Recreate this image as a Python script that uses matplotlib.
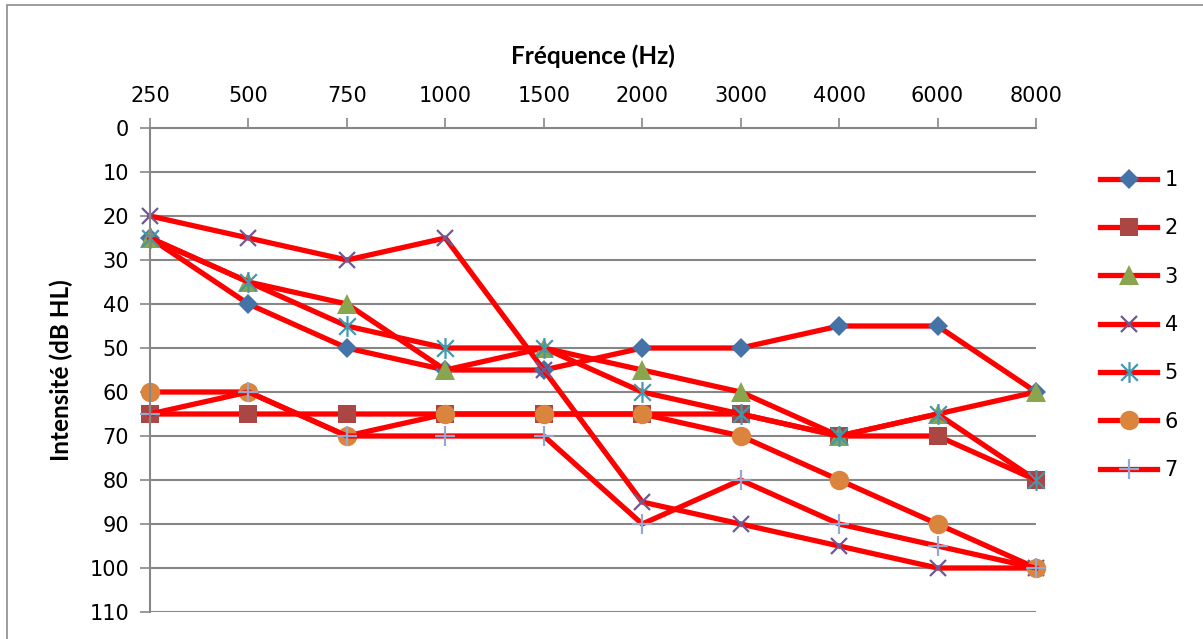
import numpy as np
import matplotlib
matplotlib.use("Agg")
import matplotlib.pyplot as plt
from matplotlib.path import Path
from matplotlib.patches import Rectangle

plt.rcParams['font.family'] = ['Lato', 'DejaVu Sans']

# audiogram data (dB HL) per frequency
freqs = ["250", "500", "750", "1000", "1500", "2000", "3000", "4000", "6000", "8000"]
s1 = [25, 40, 50, 55, 55, 50, 50, 45, 45, 60]
s2 = [65, 65, 65, 65, 65, 65, 65, 70, 70, 80]
s3 = [25, 35, 40, 55, 50, 55, 60, 70, 65, 60]
s4 = [20, 25, 30, 25, 55, 85, 90, 95, 100, 100]
s5 = [25, 35, 45, 50, 50, 60, 65, 70, 65, 80]
s6 = [60, 60, 70, 65, 65, 65, 70, 80, 90, 100]
s7 = [65, 60, 70, 70, 70, 90, 80, 90, 95, 100]
series_names = ["1", "2", "3", "4", "5", "6", "7"]
y_ticks = list(range(0, 111, 10))

# excel-like asterisk: vertical bar plus an X
ast = Path([(0, -0.5), (0, 0.5), (-0.4, -0.4), (0.4, 0.4), (-0.4, 0.4), (0.4, -0.4)],
           [Path.MOVETO, Path.LINETO, Path.MOVETO, Path.LINETO, Path.MOVETO, Path.LINETO])

styles = [
    dict(marker='D', ms=10, mfc='#4572A7', mec='#4572A7', mew=0),
    dict(marker='s', ms=13, mfc='#AA4643', mec='#AA4643', mew=0),
    dict(marker='^', ms=15, mfc='#89A54E', mec='#89A54E', mew=0),
    dict(marker='x', ms=12, mfc='none', mec='#71588F', mew=1.6),
    dict(marker=ast, ms=15, mfc='none', mec='#4198AF', mew=1.6),
    dict(marker='o', ms=14, mfc='#DB843D', mec='#DB843D', mew=0),
    dict(marker='+', ms=15, mfc='none', mec='#93A9CF', mew=1.6),
]

fig = plt.figure(figsize=(12.03, 6.39), dpi=100)
W, H = 1203, 639
ax = fig.add_axes([150 / W, (H - 612) / H, (1036 - 150) / W, (612 - 128) / H])

x = np.arange(len(freqs))
for name, vals, st in zip(series_names, [s1, s2, s3, s4, s5, s6, s7], styles):
    ax.plot(x, vals, color='#FF0000', lw=3.8, label=name, clip_on=False, **st)

ax.set_xlim(0, len(freqs) - 1)
ax.set_ylim(110, 0)
ax.set_yticks(y_ticks)
ax.set_xticks(x)
ax.set_xticklabels(freqs)
ax.xaxis.tick_top()
ax.xaxis.set_label_position('top')

gc = '#878787'
ax.grid(axis='y', color=gc, lw=1.5)
ax.set_axisbelow(True)
for sp in ['right', 'bottom']:
    ax.spines[sp].set_visible(False)
ax.spines['top'].set_color(gc)
ax.spines['left'].set_color(gc)
ax.spines['top'].set_linewidth(1.5)
ax.spines['left'].set_linewidth(1.5)
ax.tick_params(axis='both', colors=gc, labelcolor='black', length=7, width=1.2)
ax.tick_params(axis='x', pad=9)
ax.tick_params(axis='y', pad=8)
for lab in ax.get_xticklabels() + ax.get_yticklabels():
    lab.set_family('DejaVu Sans')
    lab.set_fontsize(15)

ax.set_xlabel("Fréquence (Hz)", fontsize=17.5, fontweight='bold', labelpad=15.5)
ax.set_ylabel("Intensité (dB HL)", fontsize=17.5, fontweight='bold', labelpad=12)

leg = fig.legend(loc='upper left', bbox_to_anchor=(1100 / W, 1 - 170 / H), frameon=False,
                 prop={'family': 'DejaVu Sans', 'size': 15}, handlelength=2.75,
                 labelspacing=1.36, handletextpad=0.35, borderpad=0, borderaxespad=0)

# outer chart border
fig.patches.append(Rectangle((7 / W, -0.05), 1.2, 1 - 5 / H + 0.05, transform=fig.transFigure,
                             fill=False, edgecolor='#8c8c8c', lw=1.2, clip_on=False))

fig.savefig("out.png", dpi=100)
